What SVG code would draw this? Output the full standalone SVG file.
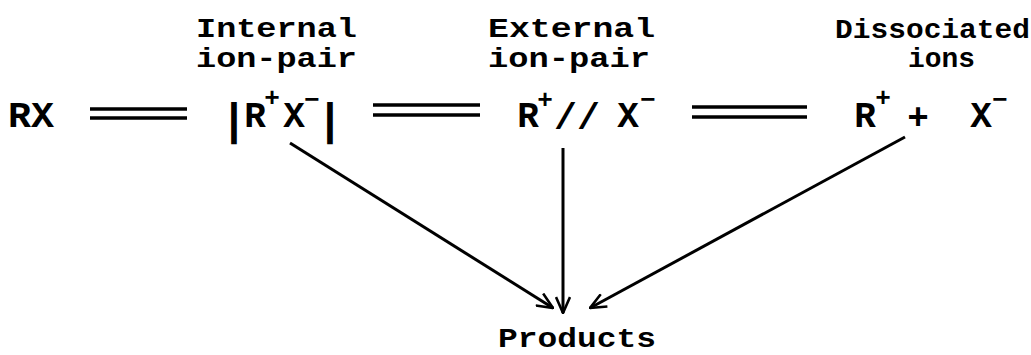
<svg xmlns="http://www.w3.org/2000/svg" width="1031" height="355" viewBox="0 0 1031 355">
<style>
text{font-family:"Liberation Mono","DejaVu Sans Mono",monospace;font-weight:bold;fill:#000}
.lab{font-size:28px}
.main{font-size:36px}
.bar{font-size:44px}
.sup{font-size:26px}
.eq{stroke:#000;stroke-width:3.5;fill:none}
.arr{stroke:#000;stroke-width:3;fill:none}
</style>
<defs>
<marker id="ah" viewBox="0 0 18 16" refX="17" refY="8" markerWidth="18" markerHeight="16" markerUnits="userSpaceOnUse" orient="auto">
<path d="M1,1 L17,8 L1,15" fill="none" stroke="#000" stroke-width="2.6"/>
</marker>
</defs>
<rect width="1031" height="355" fill="#fff"/>
<g id="rx">
<text class="main" x="8" y="127" textLength="46" lengthAdjust="spacingAndGlyphs">RX</text>
</g>
<g id="internal">
<text class="lab" x="196" y="37" textLength="161" lengthAdjust="spacingAndGlyphs">Internal</text>
<text class="lab" x="196" y="67" textLength="161" lengthAdjust="spacingAndGlyphs">ion-pair</text>
<text class="bar" x="234" y="134" text-anchor="middle">|</text>
<text class="main" x="255" y="127" text-anchor="middle">R</text>
<text class="sup" x="272" y="106" text-anchor="middle">+</text>
<text class="main" x="294" y="127" text-anchor="middle">X</text>
<text class="sup" x="312" y="108" text-anchor="middle">−</text>
<text class="bar" x="330" y="134" text-anchor="middle">|</text>
</g>
<g id="external">
<text class="lab" x="488" y="37" textLength="167" lengthAdjust="spacingAndGlyphs">External</text>
<text class="lab" x="488" y="67" textLength="162" lengthAdjust="spacingAndGlyphs">ion-pair</text>
<text class="main" x="528" y="127" text-anchor="middle">R</text>
<text class="sup" x="545" y="108" text-anchor="middle">+</text>
<text class="main" x="554" y="129" textLength="46" lengthAdjust="spacingAndGlyphs">//</text>
<text class="main" x="628" y="127" text-anchor="middle">X</text>
<text class="sup" x="648" y="108" text-anchor="middle">−</text>
</g>
<g id="dissociated">
<text class="lab" x="835" y="38" textLength="195" lengthAdjust="spacingAndGlyphs">Dissociated</text>
<text class="lab" x="908" y="67" textLength="67" lengthAdjust="spacingAndGlyphs">ions</text>
<text class="main" x="865" y="127" text-anchor="middle">R</text>
<text class="sup" x="883" y="106" text-anchor="middle">+</text>
<text class="main" x="918" y="129" text-anchor="middle">+</text>
<text class="main" x="981" y="127" text-anchor="middle">X</text>
<text class="sup" x="1000" y="108" text-anchor="middle">−</text>
</g>
<g id="products">
<text class="lab" x="498" y="347" textLength="158" lengthAdjust="spacingAndGlyphs">Products</text>
</g>
<g id="connectors">
<line class="eq" x1="90" y1="109" x2="187" y2="109"/>
<line class="eq" x1="90" y1="118" x2="187" y2="118"/>
<line class="eq" x1="373" y1="105" x2="480" y2="105"/>
<line class="eq" x1="373" y1="115" x2="480" y2="115"/>
<line class="eq" x1="692" y1="107" x2="807" y2="107"/>
<line class="eq" x1="692" y1="117" x2="807" y2="117"/>
<line class="arr" x1="290" y1="143" x2="553" y2="308" marker-end="url(#ah)"/>
<line class="arr" x1="563" y1="148" x2="563" y2="313" stroke-width="2.5" marker-end="url(#ah)"/>
<line class="arr" x1="905" y1="137" x2="590" y2="308" marker-end="url(#ah)"/>
</g>
</svg>
